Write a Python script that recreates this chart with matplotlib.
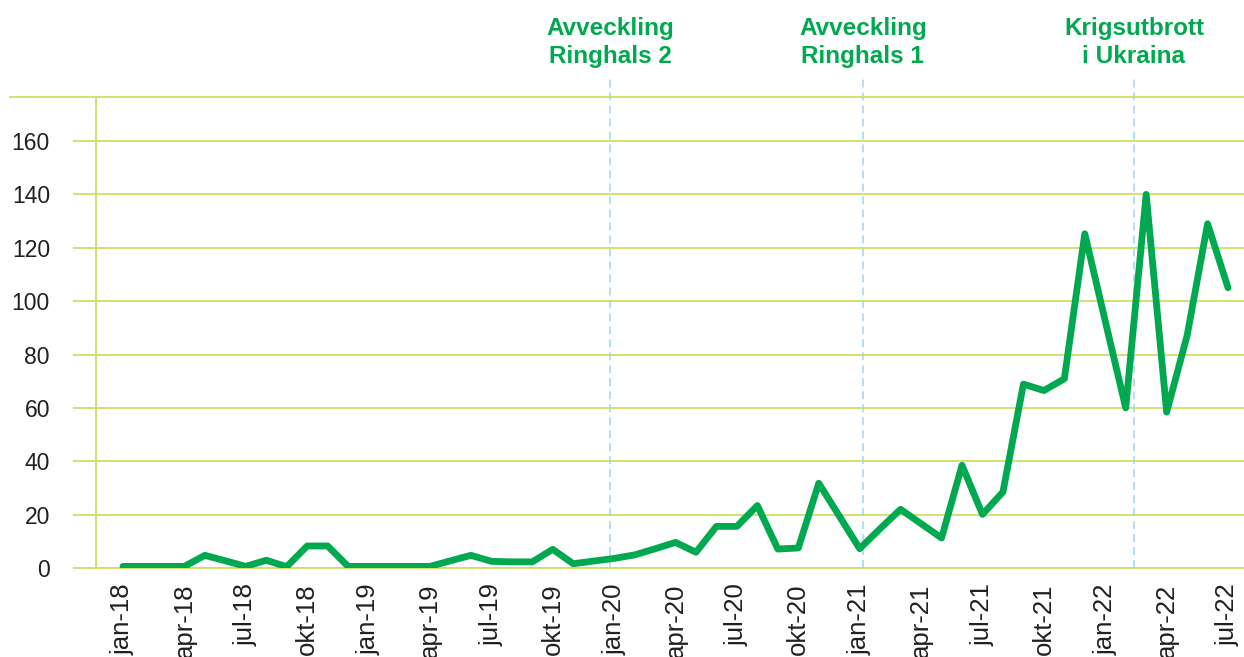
import numpy as np
import matplotlib
matplotlib.use('Agg')
from matplotlib import pyplot as plt
from matplotlib.lines import Line2D

plt.rcParams['font.family'] = ['Liberation Sans', 'DejaVu Sans']

# månadsvärden jan-18 .. jul-22
values = [0.6, 0.6, 0.6, 0.6, 4.75, 2.7, 0.6, 2.9, 0.5, 8.25, 8.25, 0.6,
          0.6, 0.6, 0.6, 0.6, 2.7, 4.75, 2.5, 2.3, 2.3, 7.0, 1.6, 2.6,
          3.6, 4.9, 7.2, 9.6, 5.9, 15.6, 15.6, 23.4, 7.1, 7.5, 31.75, 19.5,
          7.25, 14.75, 22.0, 16.6, 11.25, 38.5, 20.1, 28.5, 68.9, 66.5, 70.9, 125.25,
          92.5, 60.0, 140.0, 58.4, 87.1, 129.0, 105.0]

tick_labels = ['jan-18', 'apr-18', 'jul-18', 'okt-18',
               'jan-19', 'apr-19', 'jul-19', 'okt-19',
               'jan-20', 'apr-20', 'jul-20', 'okt-20',
               'jan-21', 'apr-21', 'jul-21', 'okt-21',
               'jan-22', 'apr-22', 'jul-22']

# händelser (position i månader från jan-18)
event_pos = [23.8, 36.15, 49.4]
event_texts = ['Avveckling\nRinghals 2', 'Avveckling\nRinghals 1', 'Krigsutbrott\ni Ukraina']

green = '#00a94f'
grid_color = '#cfdf63'
dash_color = '#9fd6f0'

fig = plt.figure(figsize=(12.44, 6.57), dpi=100)
ax = fig.add_axes([96 / 1244, 89 / 657, 1148 / 1244, 471 / 657])

x = np.arange(len(values))
ax.plot(x, values, color=green, lw=4.9, solid_joinstyle='round',
        solid_capstyle='round', zorder=4)

ax.set_xlim(-1.32, 54.78)
ax.set_ylim(0, 176.5)

# rutnät
ax.set_yticks(range(0, 161, 20))
ax.yaxis.grid(True, color=grid_color, lw=1.3)
ax.set_axisbelow(True)
for side in ['top', 'right']:
    ax.spines[side].set_visible(False)
ax.spines['left'].set_color(grid_color)
ax.spines['left'].set_linewidth(1.3)
ax.spines['bottom'].set_color(grid_color)
ax.spines['bottom'].set_linewidth(1.3)

ax.tick_params(axis='y', length=16.6, width=1.3, color=grid_color, pad=16.6,
               labelsize=16.5, labelcolor='#231f20')
ax.set_xticks(range(0, len(values), 3))
ax.set_xticklabels(tick_labels, rotation=90)
ax.tick_params(axis='x', length=0, pad=11, labelsize=18.5, labelcolor='#231f20')

# övre linje som går ända ut till vänster
fig.add_artist(Line2D([10 / 1244, 1], [560 / 657, 560 / 657], color=grid_color, lw=1.3))

# streckade linjer och rubriker
for xe, txt in zip(event_pos, event_texts):
    ax.plot([xe, xe], [0, 183.6], color=dash_color, lw=1.1, dashes=(5.2, 3.3),
            clip_on=False, zorder=3)
    ax.text(xe, 196.9, txt, ha='center', va='center', fontsize=17.5,
            fontweight='bold', color=green, linespacing=1.32, clip_on=False)

fig.savefig('out.png', dpi=100)
plt.close(fig)
